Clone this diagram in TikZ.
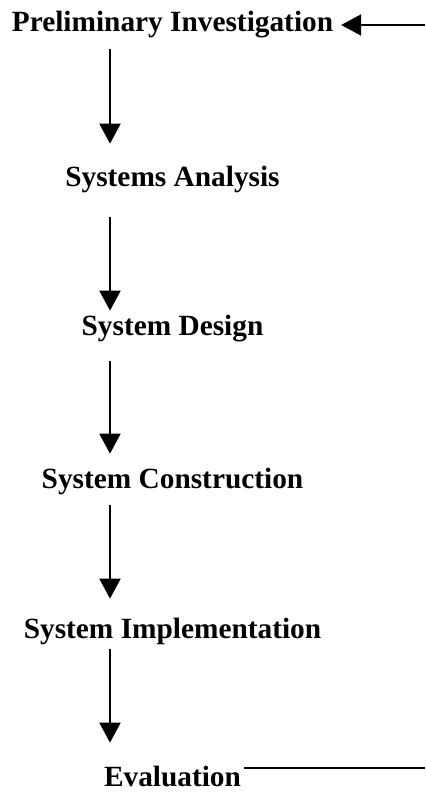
\documentclass[tikz,border=0pt]{standalone}
\usepackage{fontspec}
\setmainfont{Liberation Serif}
\usetikzlibrary{arrows.meta}

\tikzset{every picture/.style={line width=1.5pt}}
\tikzset{
  stage/.style={anchor=base,inner sep=0pt,font=\fontsize{22}{26}\selectfont\bfseries},
  flow/.style={-{Triangle[length=15pt,width=15.75pt]}},
}

\begin{document}
\begin{tikzpicture}[x=0.75pt,y=0.75pt,yscale=-1,xscale=1]
\useasboundingbox (0,0) rectangle (425,792);

% Text Nodes
\node [stage] (prelim) at (172.5,32) {Preliminary Investigation};
\node [stage] (analysis) at (172.5,186) {Systems Analysis};
\node [stage] (design) at (172.5,335) {System Design};
\node [stage] (construct) at (172.5,488) {System Construction};
\node [stage] (implement) at (172.5,638) {System Implementation};
\node [stage] (eval) at (172.5,786) {Evaluation};

% column of the down arrows, and ends of the return line
\coordinate (col) at (110,0);
\coordinate (backtop) at (425,25);
\coordinate (backbot) at (425,768);

% Down arrows
\draw [flow,shorten <=7.2pt,shorten >=15.75pt] (prelim.south -| col) -- (analysis.north -| col);
\draw [flow,shorten <=17.7pt,shorten >=2.25pt] (analysis.south -| col) -- (design.north -| col);
\draw [flow,shorten <=14pt,shorten >=9.75pt] (design.south -| col) -- (construct.north -| col);
\draw [flow,shorten <=7.2pt,shorten >=13.5pt] (construct.south -| col) -- (implement.north -| col);
\draw [flow,shorten <=2.7pt,shorten >=16.5pt] (implement.south -| col) -- (eval.north -| col);

% Return line
\draw [flow,shorten >=5.25pt] (backtop) -- (prelim.east |- backtop);
\draw [shorten <=1.5pt] (eval.east |- backbot) -- (backbot);

\end{tikzpicture}
\end{document}
